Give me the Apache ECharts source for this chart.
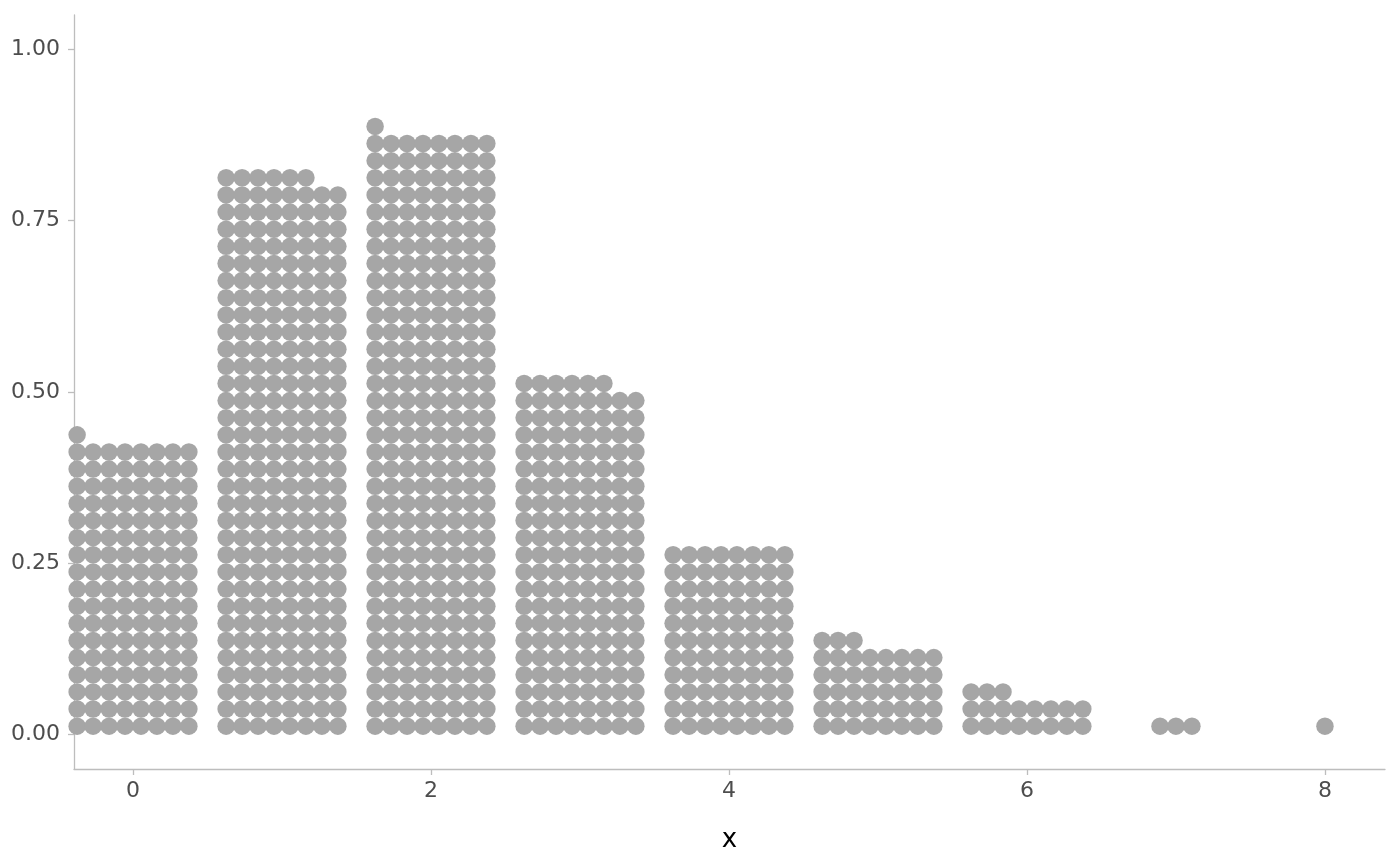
<!DOCTYPE html>
<html>
<head>
<meta charset="utf-8">
<script src="https://cdn.jsdelivr.net/npm/echarts@6/dist/echarts.min.js"></script>
<style>
  html, body { margin: 0; padding: 0; background: #fff; }
  #chart { width: 1400px; height: 866px; }
</style>
</head>
<body>
<div id="chart"></div>
<script>
// values of x and how many dots sit on each one
const xValues = [0, 1, 2, 3, 4, 5, 6, 7, 8];
const dotCounts = [137, 262, 281, 166, 88, 43, 19, 3, 1];
const xTicks = [0, 2, 4, 6, 8];
const yTicks = [0, 0.25, 0.5, 0.75, 1];

// dot layout: up to 8 dots per row, rows stacked upward
const perRow = 8;
const colStep = 0.75 / 7;
const rowStep = 0.025;

function buildDots() {
  const pts = [];
  xValues.forEach(function (v, i) {
    const n = dotCounts[i];
    const cols = Math.min(n, perRow);
    const left = v - (cols - 1) * colStep / 2;
    for (let k = 0; k < n; k++) {
      const row = Math.floor(k / perRow);
      const col = k % perRow;
      pts.push([left + col * colStep, rowStep / 2 + row * rowStep]);
    }
  });
  return pts;
}

const chart = echarts.init(document.getElementById("chart"));

chart.setOption({
  animation: false,
  grid: { left: 74, right: 15, top: 15, bottom: 97 },
  xAxis: {
    type: "value",
    min: -0.396,
    max: 8.403,
    name: "x",
    nameLocation: "middle",
    nameGap: 58,
    nameTextStyle: { fontFamily: "DejaVu Sans", fontSize: 26, color: "#000" },
    splitLine: { show: false },
    axisLine: { show: true, onZero: false, lineStyle: { color: "#bdbdbd", width: 1.3 } },
    axisTick: { show: true, length: 6, customValues: xTicks, lineStyle: { color: "#bdbdbd", width: 1.3 } },
    axisLabel: {
      customValues: xTicks,
      margin: 11,
      fontFamily: "DejaVu Sans",
      fontSize: 22,
      color: "#4d4d4d"
    }
  },
  yAxis: {
    type: "value",
    min: -0.05,
    max: 1.05,
    splitLine: { show: false },
    axisLine: { show: true, onZero: false, lineStyle: { color: "#bdbdbd", width: 1.3 } },
    axisTick: { show: true, length: 6, customValues: yTicks, lineStyle: { color: "#bdbdbd", width: 1.3 } },
    axisLabel: {
      customValues: yTicks,
      margin: 14,
      fontFamily: "DejaVu Sans",
      fontSize: 22,
      color: "#4d4d4d",
      formatter: function (v) { return v.toFixed(2); }
    }
  },
  series: [{
    type: "scatter",
    data: buildDots(),
    symbol: "circle",
    symbolSize: 17.5,
    clip: true,
    itemStyle: { color: "#a6a6a6", opacity: 1 },
    emphasis: { disabled: true }
  }]
});
</script>
</body>
</html>
